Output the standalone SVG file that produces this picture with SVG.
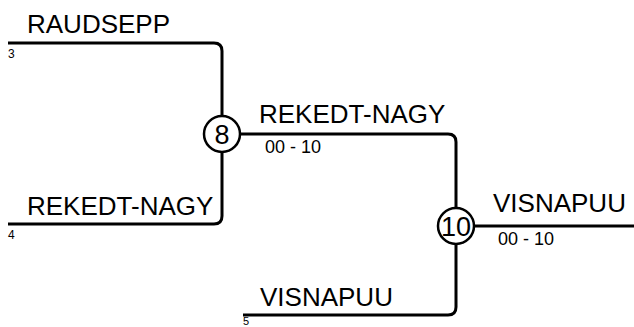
<svg xmlns="http://www.w3.org/2000/svg" width="634" height="327" viewBox="0 0 634 327">
<style>
.ln{fill:none;stroke:#000;stroke-width:3;}
.nd{fill:#fff;stroke:#000;stroke-width:2.5;}
.nm{font-family:"Liberation Sans",Arial,sans-serif;font-size:26px;fill:#000;}
.sc{font-family:"Liberation Sans",Arial,sans-serif;font-size:18px;fill:#000;}
.sd{font-family:"Liberation Sans",Arial,sans-serif;font-size:12px;fill:#000;}
.cn{font-family:"Liberation Sans",Arial,sans-serif;font-size:27px;fill:#000;text-anchor:middle;}
</style>
<rect width="634" height="327" fill="#fff"/>
<g id="connectors">
<path class="ln" d="M8,43 H214 Q222,43 222,51 V116"/>
<path class="ln" d="M222,152 V216 Q222,224 214,224 H8"/>
<path class="ln" d="M240,134 H448 Q456,134 456,142 V208"/>
<path class="ln" d="M456,244 V307 Q456,315 448,315 H243"/>
<path class="ln" d="M474,226 H634"/>
</g>
<g id="p3">
<text class="nm" x="27" y="33">RAUDSEPP</text>
<text class="sd" x="8" y="58">3</text>
</g>
<g id="p4">
<text class="nm" x="27" y="215">REKEDT-NAGY</text>
<text class="sd" x="8" y="239">4</text>
</g>
<g id="p5">
<text class="nm" x="260" y="306">VISNAPUU</text>
<text class="sd" x="243" y="325" style="font-size:11px">5</text>
</g>
<g id="m8">
<circle class="nd" cx="222" cy="134" r="18"/>
<text class="cn" x="222" y="144">8</text>
<text class="nm" x="259" y="123">REKEDT-NAGY</text>
<text class="sc" x="265" y="153">00 - 10</text>
</g>
<g id="m10">
<circle class="nd" cx="456" cy="226" r="18"/>
<text class="cn" x="456" y="236">10</text>
<text class="nm" x="493" y="212">VISNAPUU</text>
<text class="sc" x="498" y="245">00 - 10</text>
</g>
</svg>
